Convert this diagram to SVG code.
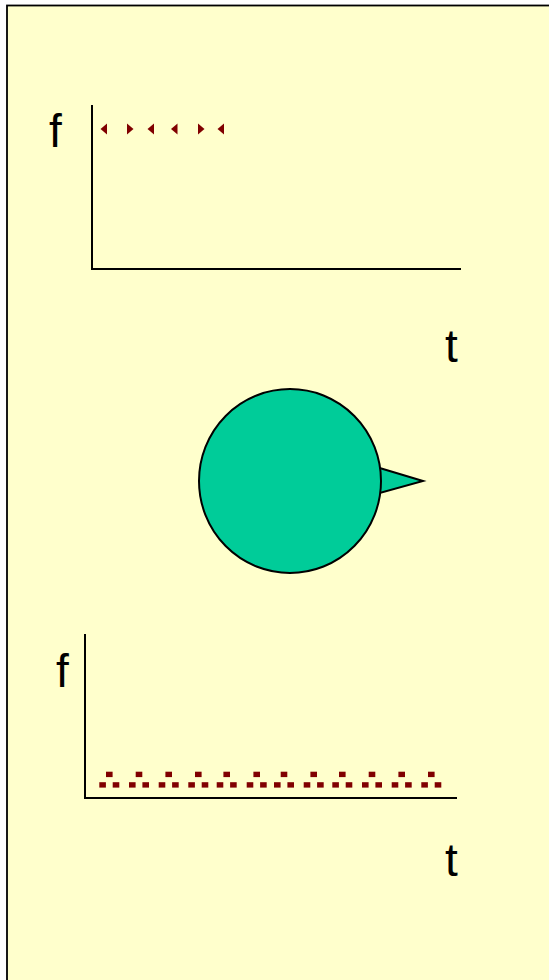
<svg xmlns="http://www.w3.org/2000/svg" width="549" height="980" viewBox="0 0 549 980">
<style>
.lbl{font-family:"Liberation Sans",Arial,sans-serif;font-size:46px;fill:#000}
.ax{stroke:#000;stroke-width:2;fill:none}
.mk{fill:#800000}
</style>
<defs>
<g id="grp">
<rect x="-3.3" y="0" width="6.6" height="5.4" class="mk"/>
<rect x="-10" y="10.5" width="6.6" height="5.4" class="mk"/>
<rect x="3.4" y="10.5" width="6.6" height="5.4" class="mk"/>
</g>
</defs>
<rect x="0" y="0" width="549" height="980" fill="#fff"/>
<rect x="7" y="5.5" width="600" height="1000" fill="#FFFFCC" stroke="#000" stroke-width="1.8"/>
<g id="chart-top">
<path class="ax" d="M92,105 V269 H461"/>
<text class="lbl" x="49" y="147">f</text>
<text class="lbl" x="445" y="362">t</text>
<path class="mk" d="M100.5,129 L107,123.5 V134.5 Z"/>
<path class="mk" d="M133.5,129 L127,123.5 V134.5 Z"/>
<path class="mk" d="M147.5,129 L154,123.5 V134.5 Z"/>
<path class="mk" d="M171,129 L177.5,123.5 V134.5 Z"/>
<path class="mk" d="M204.5,129 L198,123.5 V134.5 Z"/>
<path class="mk" d="M217.5,129 L224,123.5 V134.5 Z"/>
</g>
<g id="source">
<polygon points="378,467.5 423,481 378,493.5" fill="#00CC99" stroke="#000" stroke-width="2"/>
<ellipse cx="290" cy="481" rx="91" ry="92" fill="#00CC99" stroke="#000" stroke-width="2"/>
</g>
<g id="chart-bottom">
<path class="ax" d="M85,634 V798 H457"/>
<text class="lbl" x="56" y="687">f</text>
<text class="lbl" x="445" y="876">t</text>
<use href="#grp" x="109.3" y="771.7"/>
<use href="#grp" x="139" y="771.7"/>
<use href="#grp" x="168.7" y="771.7"/>
<use href="#grp" x="198.3" y="771.7"/>
<use href="#grp" x="226.7" y="771.7"/>
<use href="#grp" x="256.7" y="771.7"/>
<use href="#grp" x="284" y="771.7"/>
<use href="#grp" x="313.7" y="771.7"/>
<use href="#grp" x="342.3" y="771.7"/>
<use href="#grp" x="372" y="771.7"/>
<use href="#grp" x="401.7" y="771.7"/>
<use href="#grp" x="431.3" y="771.7"/>
</g>
</svg>
